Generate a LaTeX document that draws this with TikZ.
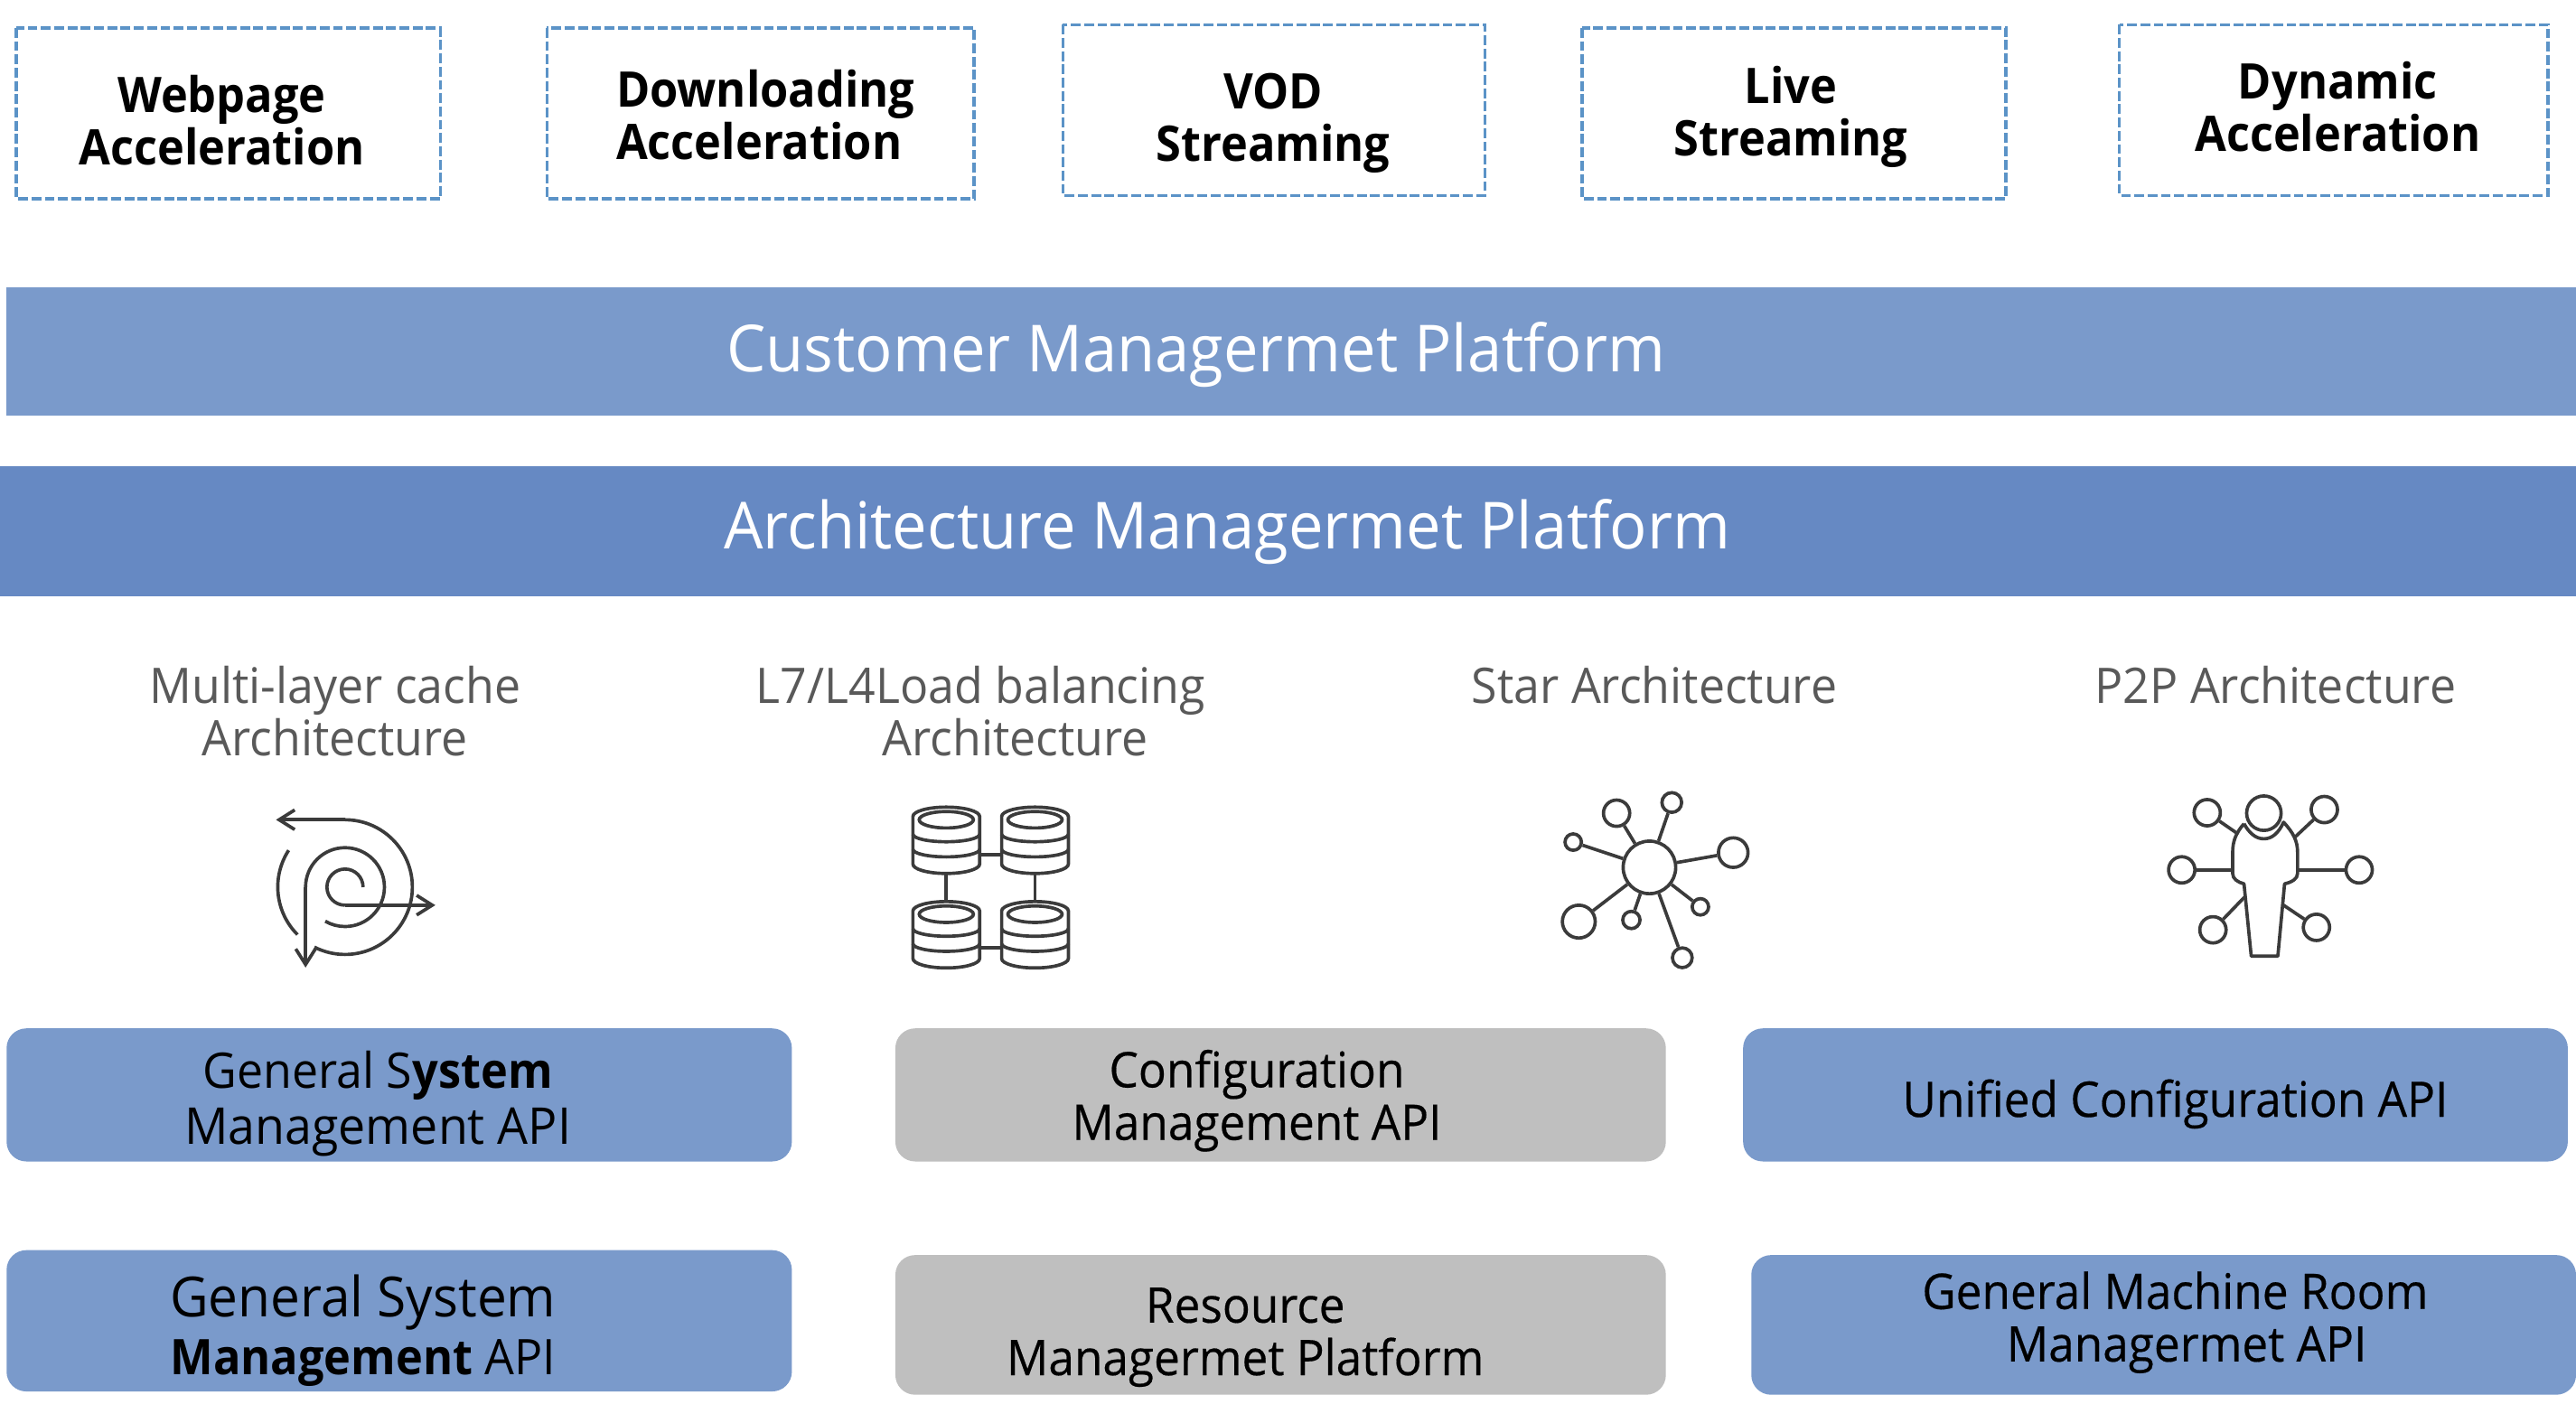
\documentclass[tikz,border=0pt]{standalone}
\usepackage{fontspec}
\setmainfont{Open Sans}[FakeStretch=0.955, BoldFeatures={FakeStretch=0.93}]
\newfontfamily\medfont{Open Sans}[FakeStretch=0.945, FakeBold=0.35]
\usetikzlibrary{arrows.meta}
\definecolor{barlight}{HTML}{7A9ACB}
\definecolor{bardark}{HTML}{6689C3}
\definecolor{boxgray}{HTML}{BFBFBF}
\definecolor{dashblue}{HTML}{5B93C7}
\definecolor{labelgray}{HTML}{595959}
\definecolor{iconline}{HTML}{3B3B3B}
\tikzset{
  tagbox/.style={draw=dashblue, line width=1.1pt, dash pattern=on 3.4pt off 1.2pt},
  tagtext/.style={align=center, font=\fontsize{17}{18.2}\selectfont\bfseries, inner sep=0},
  bartext/.style={text=white, font=\fontsize{22.5}{24}\selectfont, inner sep=0},
  archtext/.style={align=center, text=labelgray, font=\fontsize{17}{18.2}\selectfont, inner sep=0},
  apibox/.style={rounded corners=0.24cm},
  apitext/.style={align=center, font=\fontsize{17}{18.2}\selectfont, inner sep=0},
  medtext/.style={align=center, font=\fontsize{17}{18.2}\selectfont\medfont, inner sep=0},
  icon/.style={draw=iconline, line width=1.15pt},
  ring/.style={circle, draw=iconline, line width=1.15pt, fill=white, inner sep=0, minimum size=#1},
  dbbox/.style={minimum width=0.81cm, minimum height=0.81cm, inner sep=0},
  barb/.style={-{Straight Barb[length=5.4pt,width=6.8pt]}}
}
\begin{document}
\begin{tikzpicture}[x=0.02cm,y=0.02cm]
  \useasboundingbox (0,0) rectangle (1568,-865.7);

  \draw[tagbox] (  10, -17) rectangle ( 268,-121);
  \draw[tagbox] ( 333, -17) rectangle ( 593,-121);
  \draw[tagbox] ( 647, -15) rectangle ( 904,-119);
  \draw[tagbox] ( 963, -17) rectangle (1221,-121);
  \draw[tagbox] (1290, -15) rectangle (1551,-119);
  \node[tagtext] (webpage)  at ( 135, -73) {Webpage\\Acceleration};
  \node[tagtext, align=left] (download) at ( 466, -70) {Downloading\\Acceleration};
  \node[tagtext] (vod)      at ( 775, -75) {VOD\\Streaming};
  \node[tagtext] (live)     at (1090, -71) {Live\\Streaming};
  \node[tagtext] (dynamic)  at (1423, -65) {Dynamic\\Acceleration};

  \fill[barlight] (4,-175) rectangle (1568,-253);
  \fill[bardark]  (0,-284) rectangle (1568,-363);
  \node[bartext] (customer) at (728,-216) {Customer Managermet Platform};
  \node[bartext] (platform) at (747,-324) {Architecture Managermet Platform};

  \node[archtext] (multi) at ( 204,-433) {Multi-layer cache\\Architecture};
  \node[archtext] (l7l4)  at ( 597,-433) {L7/L4Load balancing\\\hspace*{0.84cm}Architecture};
  \node[archtext] (star)  at (1007,-417) {Star Architecture};
  \node[archtext] (ptp)   at (1385,-417) {P2P Architecture};

  % spiral
  \draw[icon, barb] (210,-499) -- (168,-499);
  \draw[icon] (210,-499) arc[start angle=90, end angle=-117, radius=41];
  \draw[icon] (175.7,-517.6) arc[start angle=147, end angle=225, radius=41];
  \draw[icon, barb] (186,-540) -- (186,-589);
  \draw[icon] (186,-540) arc[start angle=180, end angle=-120, radius=24];
  \draw[icon, barb] (210,-551) -- (265,-551);
  \draw[icon] (210,-551) arc[start angle=-90, end angle=-360, radius=11];

  % databases
  \foreach \n/\cx/\cy in {1/576/-511.5, 2/630/-511.5, 3/576/-569, 4/630/-569} {
    \node[dbbox] (db\n) at (\cx,\cy) {};
    \begin{scope}[shift={(\cx,\cy)}]
      \draw[icon] (-20.3,14.5) arc[start angle=180, end angle=0, x radius=20.3, y radius=5.7]
        -- (20.3,-14.5) arc[start angle=0, end angle=-180, x radius=20.3, y radius=5.7] -- cycle;
      \draw[icon] (0,12.5) ellipse [x radius=16.5, y radius=5];
      \draw[icon] (-20.3,3.7) arc[start angle=180, end angle=360, x radius=20.3, y radius=4.6];
      \draw[icon] (-20.3,-5.5) arc[start angle=180, end angle=360, x radius=20.3, y radius=4.6];
    \end{scope}
  }
  \draw[icon] ([yshift=-0.176cm]db1.east) -- ([yshift=-0.176cm]db2.west);
  \draw[icon] ([yshift=-0.16cm]db3.east) -- ([yshift=-0.16cm]db4.west);
  \draw[icon] (db1) -- (db3);
  \draw[icon] (db2) -- (db4);

  % star
  \node[ring=0.64cm] (hub) at (1004,-528) {};
  \foreach \n/\sx/\sy/\d in {1/984/-495/0.32cm, 2/1017.6/-488.5/0.24cm, 3/957.6/-512.6/0.2cm, 4/1055/-519/0.36cm,
                             5/1035/-552/0.2cm, 6/961/-561/0.4cm, 7/993/-560/0.21cm, 8/1024/-583/0.24cm} {
    \node[ring=\d] (s\n) at (\sx,\sy) {};
    \draw[icon] (hub) -- (s\n);
  }

  % p2p
  \draw[icon, line join=round] (1365.9,-501.4) .. controls (1361,-507) and (1359,-512) .. (1359,-518.8)
    -- (1359,-531.7) .. controls (1359,-535) and (1362,-537) .. (1365.9,-538)
    -- (1370.3,-582) -- (1386.5,-582) -- (1390.6,-538)
    .. controls (1395,-537) and (1398.5,-535) .. (1398.5,-531.7)
    -- (1398.5,-518.8) .. controls (1398.5,-512) and (1396,-507) .. (1390,-500.5)
    .. controls (1387,-507) and (1383,-510.6) .. (1378,-510.6)
    .. controls (1373,-510.6) and (1369,-507) .. (1365.9,-501.4);
  \node[ring=0.42cm] (head) at (1378,-495) {};
  \coordinate (c1) at (1362.5,-507.8);
  \coordinate (c2) at (1396.8,-509.7);
  \coordinate (c3) at (1359,-529.5);
  \coordinate (c4) at (1398.5,-529.5);
  \coordinate (c5) at (1366,-546.3);
  \coordinate (c6) at (1390,-551);
  \foreach \n/\sx/\sy in {1/1343.5/-494.7, 2/1414.8/-492.8, 3/1328/-529.5, 4/1436/-529.5, 5/1347/-566, 6/1410/-564.5} {
    \node[ring=0.32cm] (p\n) at (\sx,\sy) {};
    \draw[icon] (p\n) -- (c\n);
  }

  \fill[barlight, apibox] (   4,-626) rectangle ( 482,-707);
  \fill[boxgray,  apibox] ( 545,-626) rectangle (1014,-707);
  \fill[barlight, apibox] (1061,-626) rectangle (1563,-707);
  \fill[barlight, apibox] (   4,-761) rectangle ( 482,-847);
  \fill[boxgray,  apibox] ( 545,-764) rectangle (1014,-849);
  \fill[barlight, apibox] (1066,-764) rectangle (1568,-849);

  \node[apitext] (gsm)     at ( 230,-672) {General S\textbf{ystem}\\[1.1pt]{\fontsize{17.6}{18.2}\selectfont Management API}};
  \node[medtext] (config)  at ( 765,-670) {Configuration\\Management API};
  \node[medtext] (unified) at (1324,-672) {Unified Configuration API};
  \node[apitext] (gsmtwo)  at ( 221,-810) {{\fontsize{19.2}{18.2}\selectfont General System}\\[1.7pt]\textbf{Management} API};
  \node[medtext] (res)     at ( 758,-814) {Resource\\Managermet Platform};
  \node[medtext] (room)    at (1324,-805) {General Machine Room\\\hspace*{0.28cm}Managermet API};
\end{tikzpicture}
\end{document}
